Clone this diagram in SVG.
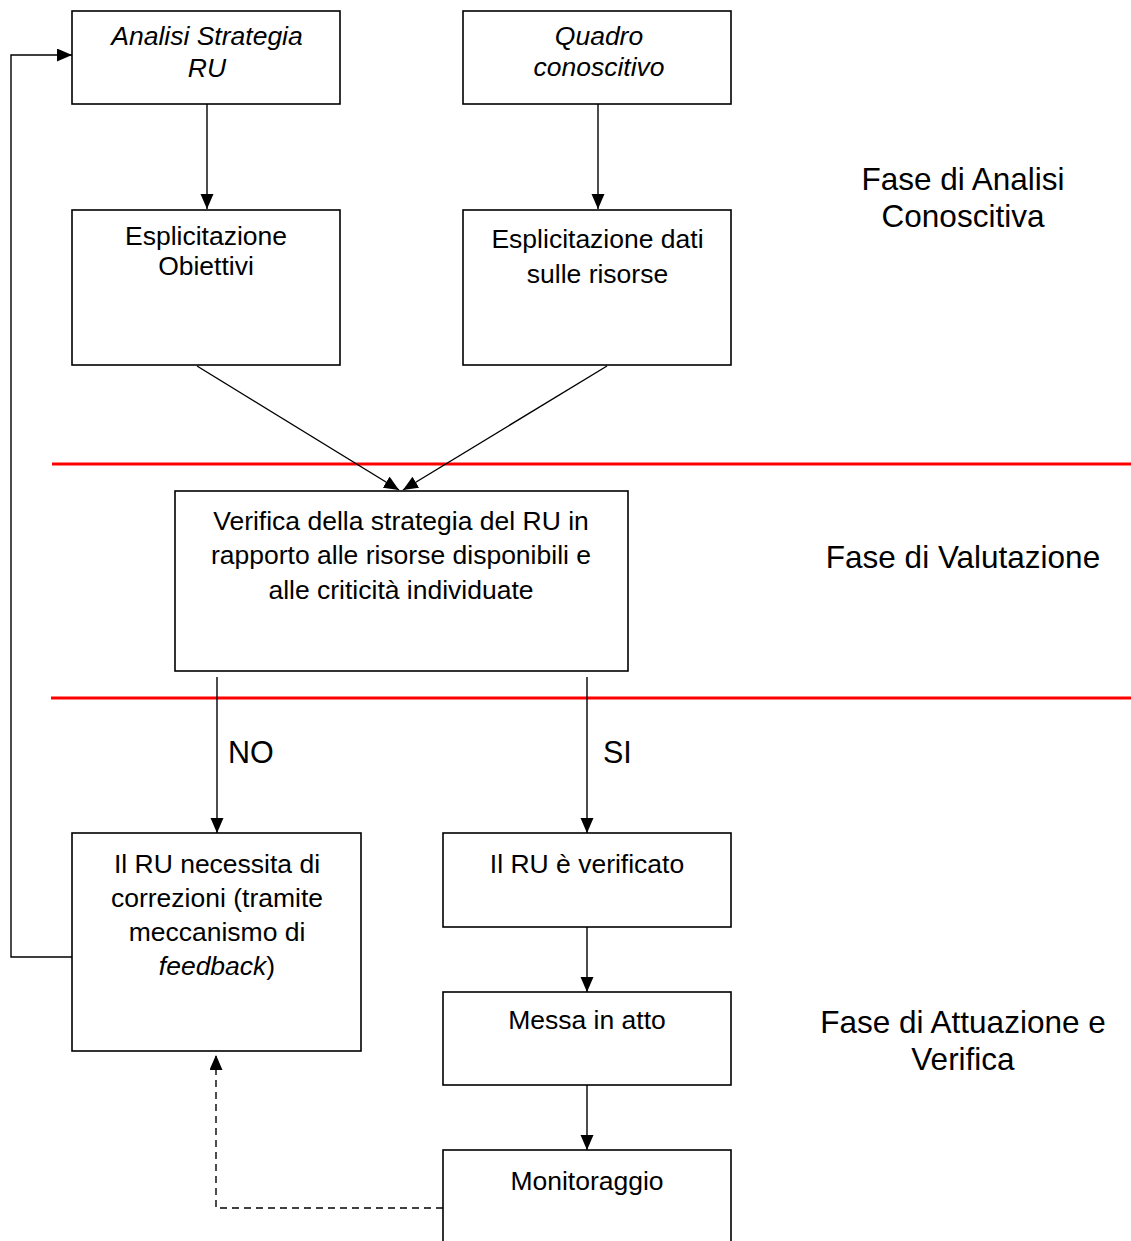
<svg xmlns="http://www.w3.org/2000/svg" width="1131" height="1241" viewBox="0 0 1131 1241">
  <defs>
    <marker id="arr" markerUnits="userSpaceOnUse" markerWidth="16" markerHeight="14" refX="15" refY="6.5" orient="auto">
      <path d="M0,0 L15,6.5 L0,13 Z" fill="#000"/>
    </marker>
  </defs>
  <style>
    .box { fill: #fff; stroke: #000; stroke-width: 1.6; }
    .t { font-family: "Liberation Sans", Arial, sans-serif; font-size: 26.5px; fill: #000; text-anchor: middle; }
    .it { font-style: italic; }
    .lbl { font-family: "Liberation Sans", Arial, sans-serif; font-size: 30.5px; fill: #000; }
    .fase { font-family: "Liberation Sans", Arial, sans-serif; font-size: 31.5px; fill: #000; text-anchor: middle; }
    .c { fill: none; stroke: #000; stroke-width: 1.4; }
    .dash { stroke-dasharray: 7 5; }
    .red { stroke: #FF0000; stroke-width: 3.2; }
  </style>
  <rect width="1131" height="1241" fill="#fff"/>

  <g id="phase-lines">
    <line class="red" x1="52" y1="464" x2="1131" y2="464"/>
    <line class="red" x1="51" y1="698" x2="1131" y2="698"/>
  </g>

  <g id="connectors">
    <line class="c" x1="207" y1="104" x2="207" y2="209" marker-end="url(#arr)"/>
    <line class="c" x1="598" y1="104" x2="598" y2="209" marker-end="url(#arr)"/>
    <line class="c" x1="197" y1="366" x2="399" y2="490" marker-end="url(#arr)"/>
    <line class="c" x1="607" y1="366" x2="403" y2="490" marker-end="url(#arr)"/>
    <line class="c" x1="217" y1="677" x2="217" y2="833" marker-end="url(#arr)"/>
    <line class="c" x1="587" y1="677" x2="587" y2="833" marker-end="url(#arr)"/>
    <line class="c" x1="587" y1="927" x2="587" y2="992" marker-end="url(#arr)"/>
    <line class="c" x1="587" y1="1085" x2="587" y2="1150" marker-end="url(#arr)"/>
    <polyline class="c" points="72,957 11,957 11,55 72,55" marker-end="url(#arr)"/>
    <polyline class="c dash" points="443,1208 216,1208 216,1055" marker-end="url(#arr)"/>
    <text class="lbl" x="228" y="763">NO</text>
    <text class="lbl" x="603" y="763">SI</text>
  </g>

  <g id="analisi-strategia">
    <rect class="box" x="72" y="11" width="268" height="93"/>
    <text class="t it" x="207" y="45">Analisi Strategia</text>
    <text class="t it" x="207" y="77">RU</text>
  </g>

  <g id="quadro-conoscitivo">
    <rect class="box" x="463" y="11" width="268" height="93"/>
    <text class="t it" x="599" y="45">Quadro</text>
    <text class="t it" x="599" y="76">conoscitivo</text>
  </g>

  <g id="esplicitazione-obiettivi">
    <rect class="box" x="72" y="210" width="268" height="155"/>
    <text class="t" x="206" y="245">Esplicitazione</text>
    <text class="t" x="206" y="275">Obiettivi</text>
  </g>

  <g id="esplicitazione-dati">
    <rect class="box" x="463" y="210" width="268" height="155"/>
    <text class="t" x="597.5" y="248">Esplicitazione dati</text>
    <text class="t" x="597.5" y="283">sulle risorse</text>
  </g>

  <g id="verifica">
    <rect class="box" x="175" y="491" width="453" height="180"/>
    <text class="t" x="401" y="530">Verifica della strategia del RU in</text>
    <text class="t" x="401" y="564">rapporto alle risorse disponibili e</text>
    <text class="t" x="401" y="599">alle criticità individuate</text>
  </g>

  <g id="correzioni">
    <rect class="box" x="72" y="833" width="289" height="218"/>
    <text class="t" x="217" y="873">Il RU necessita di</text>
    <text class="t" x="217" y="907">correzioni (tramite</text>
    <text class="t" x="217" y="941">meccanismo di</text>
    <text class="t" x="217" y="975"><tspan class="it">feedback</tspan>)</text>
  </g>

  <g id="verificato">
    <rect class="box" x="443" y="833" width="288" height="94"/>
    <text class="t" x="587" y="873">Il RU è verificato</text>
  </g>

  <g id="messa-in-atto">
    <rect class="box" x="443" y="992" width="288" height="93"/>
    <text class="t" x="587" y="1029">Messa in atto</text>
  </g>

  <g id="monitoraggio">
    <rect class="box" x="443" y="1150" width="288" height="110"/>
    <text class="t" x="587" y="1190">Monitoraggio</text>
  </g>

  <g id="fase-labels">
    <text class="fase" x="963" y="190">Fase di Analisi</text>
    <text class="fase" x="963" y="227">Conoscitiva</text>
    <text class="fase" x="963" y="568">Fase di Valutazione</text>
    <text class="fase" x="963" y="1033">Fase di Attuazione e</text>
    <text class="fase" x="963" y="1070">Verifica</text>
  </g>
</svg>
